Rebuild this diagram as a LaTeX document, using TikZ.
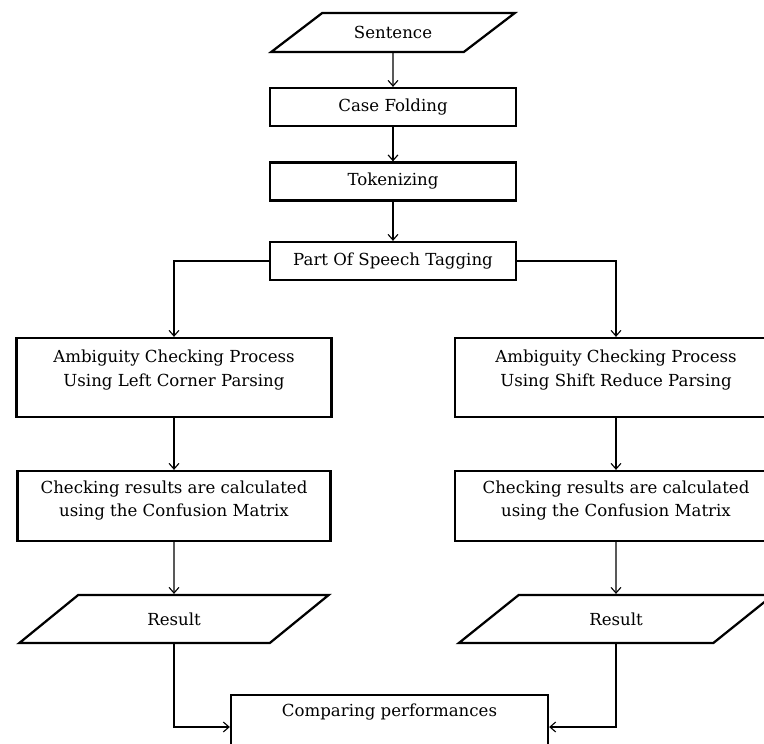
\documentclass[tikz,border=0pt]{standalone}
\usepackage{fontspec}
\setmainfont{DejaVu Serif}
\usetikzlibrary{shapes.geometric,arrows.meta}
\begin{document}
\begin{tikzpicture}[x=0.025cm, y=-0.025cm, >={Straight Barb[length=4pt,width=7pt]},
	every node/.style={font=\fontsize{11.8}{16.8}\selectfont, align=center},
	box/.style={draw, line width=1.6pt, inner sep=0pt, minimum width=6.15cm, minimum height=0.95cm},
	iobox/.style={draw, line width=1.6pt, inner sep=0pt, trapezium, trapezium stretches,
		trapezium left angle=38, trapezium right angle=142},
	conn/.style={->, line width=0.8pt}]
	\useasboundingbox (0,0) rectangle (764,744);
	\clip (0,0) rectangle (764,744);

	% middle column
	\node[iobox, trapezium left angle=24, trapezium right angle=156,
		minimum width=6.125cm, minimum height=0.975cm] (sent) at (393,32.5) {Sentence};
	\node[box] (cf) at (393,107) {Case Folding};
	\node[box] (tok) at (393,181.5) {Tokenizing};
	\node[box] (pos) at (393,261) {Part Of Speech Tagging};

	% left branch
	\node[box, minimum width=7.875cm, minimum height=1.975cm] (ambL) at (174,377.5) {};
	\node (ambLt) at (174,370) {Ambiguity Checking Process\\Using Left Corner Parsing};
	\node[box, minimum width=7.825cm, minimum height=1.75cm] (chkL) at (174,506) {};
	\node (chkLt) at (174,500.5) {Checking results are calculated\\using the Confusion Matrix};
	\node[iobox, minimum width=7.775cm, minimum height=1.2cm] (resL) at (174,619) {Result};

	% right branch
	\node[box, minimum width=8.05cm, minimum height=1.975cm] (ambR) at (616,377.5) {};
	\node (ambRt) at (616,370) {Ambiguity Checking Process\\Using Shift Reduce Parsing};
	\node[box, minimum width=8.05cm, minimum height=1.75cm] (chkR) at (616,506) {};
	\node (chkRt) at (616,500.5) {Checking results are calculated\\using the Confusion Matrix};
	\node[iobox, minimum width=7.9cm, minimum height=1.2cm] (resR) at (616,619) {Result};

	% bottom
	\node[box, minimum width=7.925cm, minimum height=1.6cm] (cmp) at (389.5,727) {};
	\node (cmpt) at (389.5,712) {Comparing performances};

	\draw[conn] (sent) -- (cf);
	\draw[conn] (cf) -- (tok);
	\draw[conn] (tok) -- (pos);
	\draw[conn] (pos.west) -| (ambL.north);
	\draw[conn] (pos.east) -| (ambR.north);
	\draw[conn] (ambL) -- (chkL);
	\draw[conn] (ambR) -- (chkR);
	\draw[conn] (chkL) -- (resL);
	\draw[conn] (chkR) -- (resR);
	\draw[conn] (resL.south) |- (cmp.west);
	\draw[conn] (resR.south) |- (cmp.east);
\end{tikzpicture}
\end{document}
